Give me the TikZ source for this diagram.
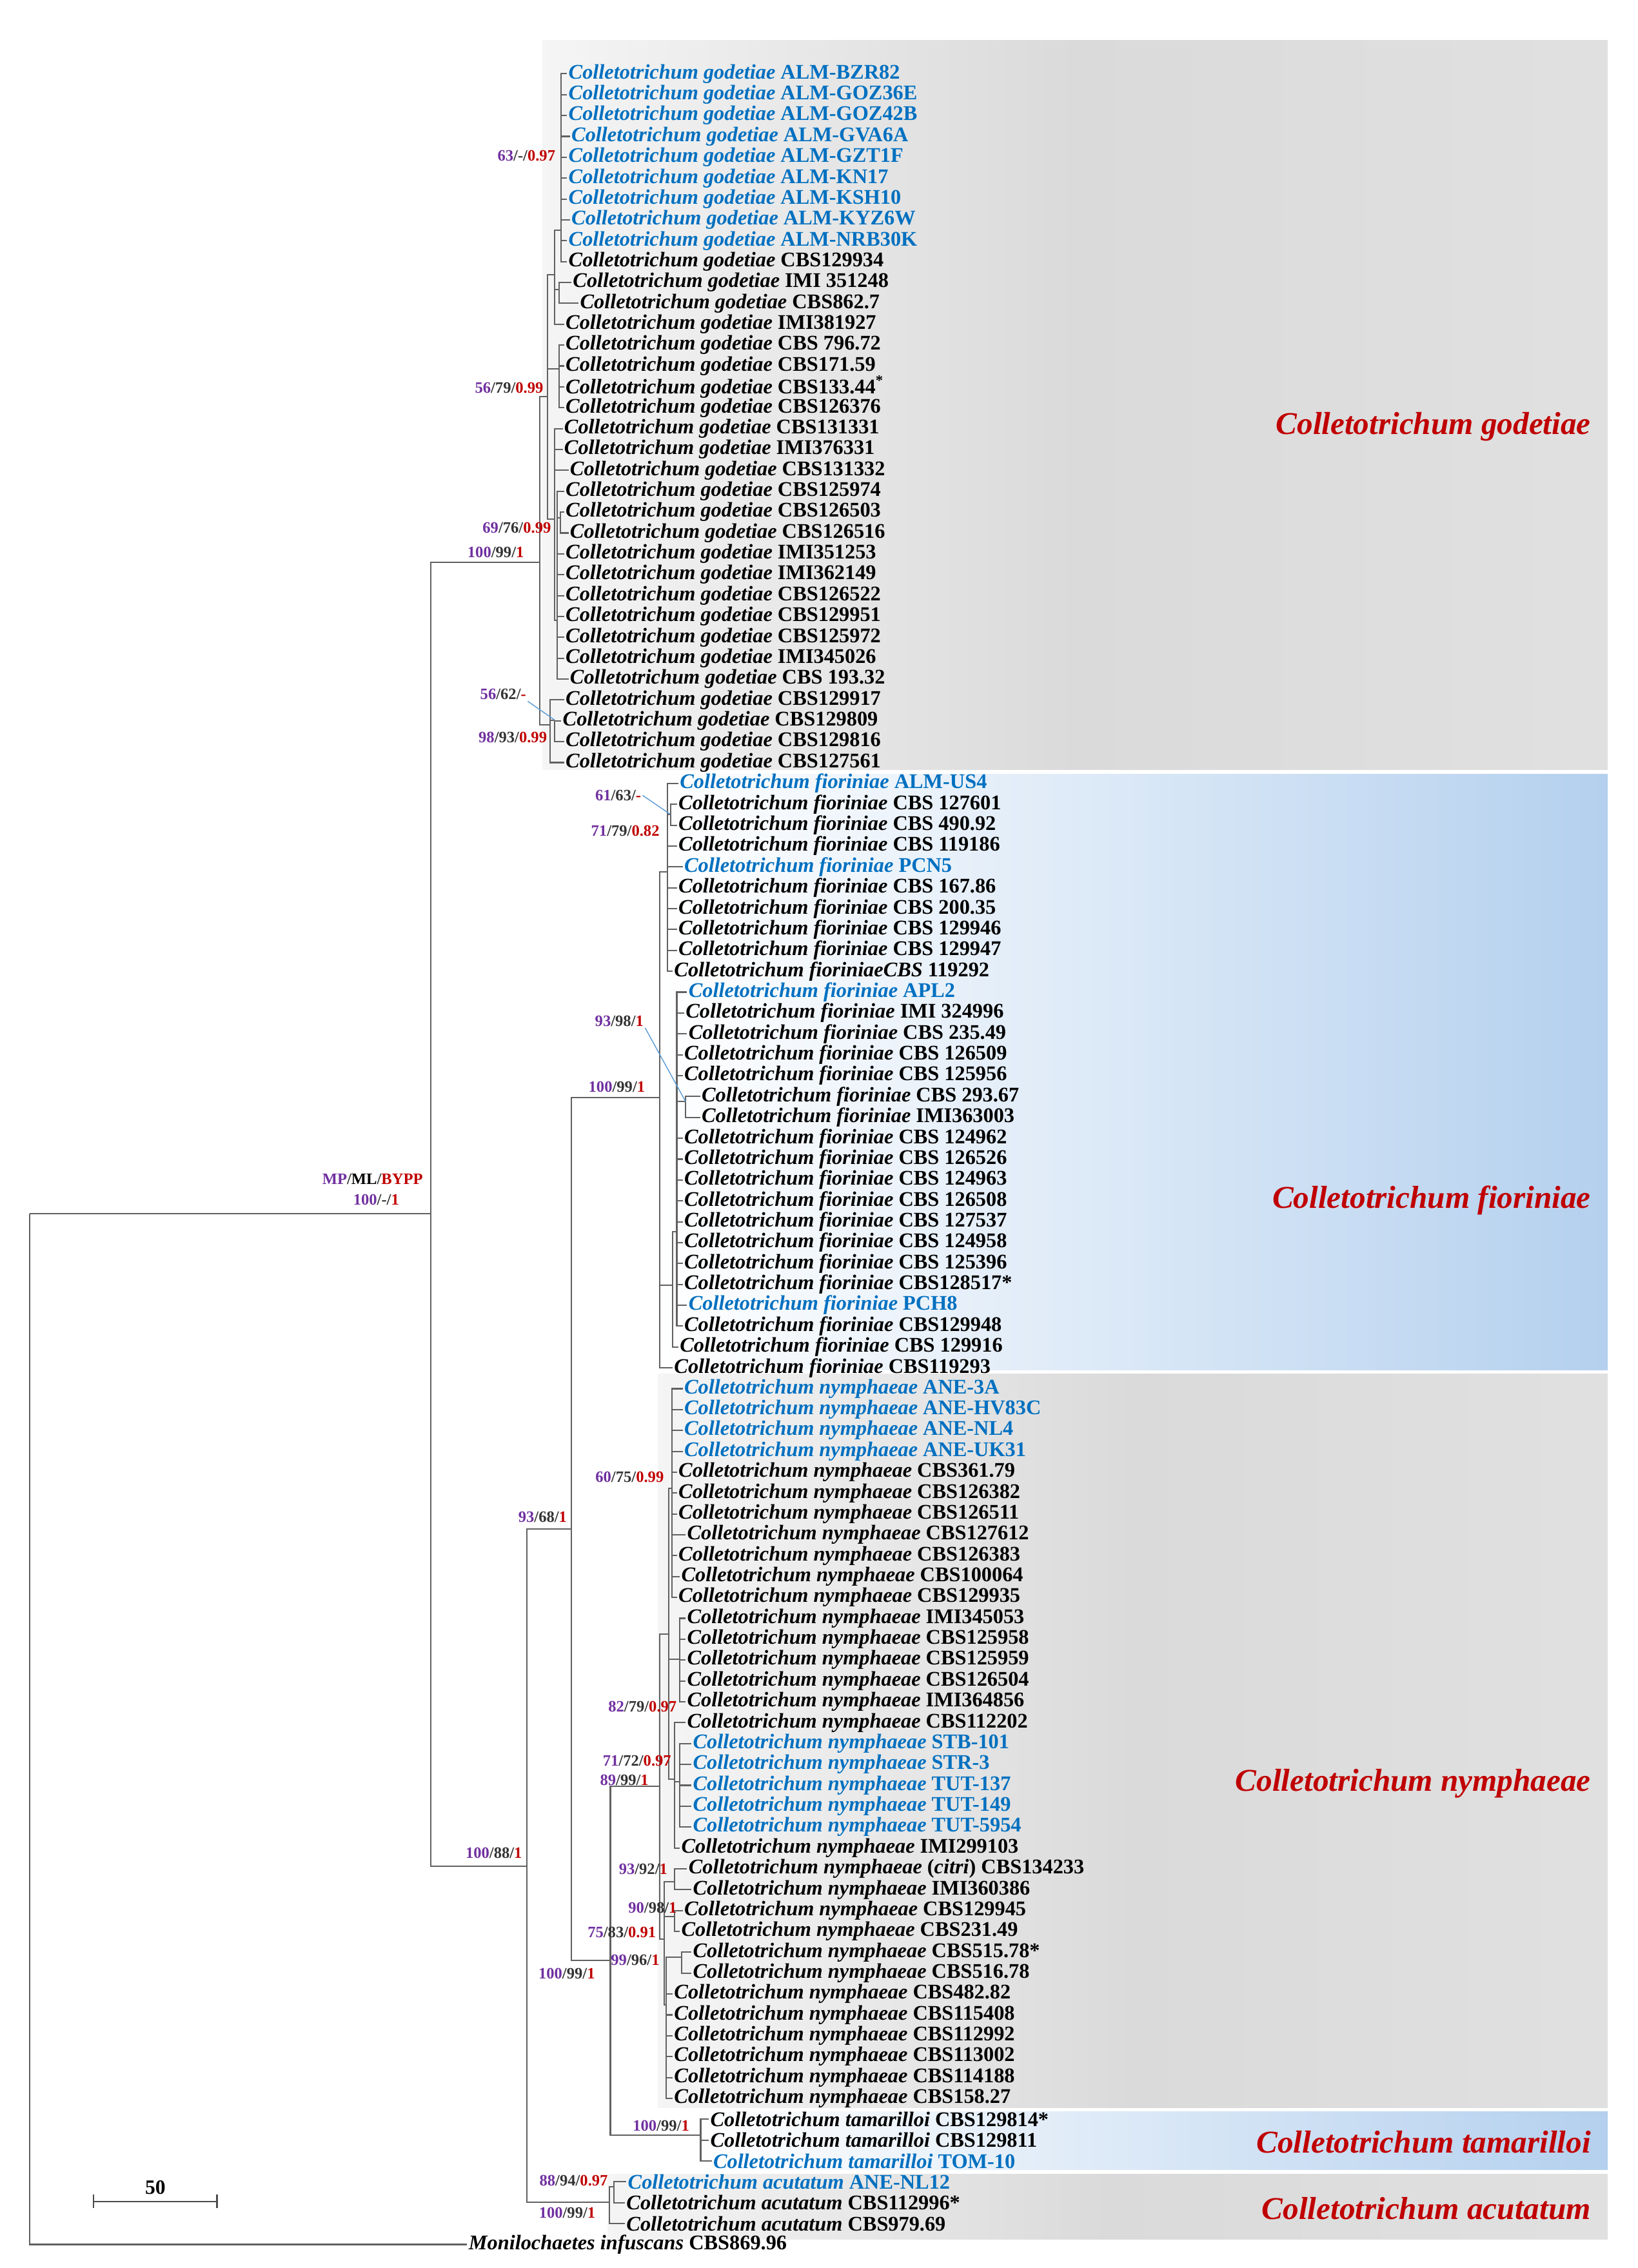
\documentclass[tikz,border=0pt]{standalone}
\usepackage{fontspec}
\setmainfont{Liberation Serif}
\definecolor{mpcol}{RGB}{112,48,160}
\definecolor{bycol}{RGB}{192,0,0}
\definecolor{isocol}{RGB}{0,112,192}
\definecolor{fioblue}{RGB}{180,208,238}
\definecolor{leadcol}{RGB}{91,155,213}

\begin{document}
\begin{tikzpicture}[x=0.022429cm, y=-0.022429cm,
    br/.style={line width=0.6pt, draw=black!62},
    leaf/.style={anchor=west, inner sep=0.5pt, font=\fontsize{9.2}{9.2}\selectfont\bfseries},
    iso/.style={leaf, text=isocol},
    ref/.style={leaf, text=black},
    sup/.style={anchor=east, inner sep=0.5pt, font=\fontsize{7}{7}\selectfont\bfseries, text=black!80},
    clade/.style={anchor=east, inner sep=0pt, text=bycol, font=\fontsize{14}{14}\selectfont\bfseries\itshape},
    lead/.style={draw=leadcol, line width=0.4pt}]

    \useasboundingbox (0,0) rectangle (1132,1568);

    \fill[left color=gray!8, right color=gray!24, middle color=gray!29] (375,28) rectangle (1111.5,532);
    \fill[left color=white, right color=fioblue, middle color=fioblue!50] (455,535) rectangle (1111.5,947);
    \fill[left color=gray!8, right color=gray!24, middle color=gray!29] (455,950) rectangle (1111.5,1457);
    \fill[left color=white, right color=fioblue, middle color=fioblue!50] (480,1460) rectangle (1111.5,1500);
    \fill[left color=gray!8, right color=gray!24, middle color=gray!29] (420,1503) rectangle (1111.5,1548);

    \foreach \i/\x/\sty/\code in {1/392/iso/ALM-BZR82, 2/392/iso/ALM-GOZ36E, 3/392/iso/ALM-GOZ42B,
        4/394/iso/ALM-GVA6A, 5/392/iso/ALM-GZT1F, 6/392/iso/ALM-KN17, 7/392/iso/ALM-KSH10,
        8/394/iso/ALM-KYZ6W, 9/392/iso/ALM-NRB30K, 10/392/ref/CBS129934, 11/395/ref/IMI 351248,
        12/400/ref/CBS862.7, 13/390/ref/IMI381927, 14/390/ref/CBS 796.72, 15/390/ref/CBS171.59,
        16/390/ref/CBS133.44\textsuperscript{*}, 17/390/ref/CBS126376, 18/389/ref/CBS131331,
        19/389/ref/IMI376331, 20/393/ref/CBS131332, 21/390/ref/CBS125974, 22/390/ref/CBS126503,
        23/393/ref/CBS126516, 24/390/ref/IMI351253, 25/390/ref/IMI362149, 26/390/ref/CBS126522,
        27/390/ref/CBS129951, 28/390/ref/CBS125972, 29/390/ref/IMI345026, 30/393/ref/CBS 193.32,
        31/390/ref/CBS129917, 32/388/ref/CBS129809, 33/390/ref/CBS129816, 34/390/ref/CBS127561}
        \node[\sty] (l\i) at (\x,{51+(\i-1)*14.43}) {\textit{Colletotrichum godetiae} \code};

    \foreach \i/\x/\sty/\code in {35/469/iso/ALM-US4, 36/468/ref/CBS 127601, 37/468/ref/CBS 490.92,
        38/468/ref/CBS 119186, 39/472/iso/PCN5, 40/468/ref/CBS 167.86, 41/468/ref/CBS 200.35,
        42/468/ref/CBS 129946, 43/468/ref/CBS 129947, 45/475/iso/APL2, 46/473/ref/IMI 324996,
        47/475/ref/CBS 235.49, 48/472/ref/CBS 126509, 49/472/ref/CBS 125956, 50/484/ref/CBS 293.67,
        51/484/ref/IMI363003, 52/472/ref/CBS 124962, 53/472/ref/CBS 126526, 54/472/ref/CBS 124963,
        55/472/ref/CBS 126508, 56/472/ref/CBS 127537, 57/472/ref/CBS 124958, 58/472/ref/CBS 125396,
        59/472/ref/CBS128517*, 60/475/iso/PCH8, 61/472/ref/CBS129948, 62/469/ref/CBS 129916,
        63/465/ref/CBS119293}
        \node[\sty] (l\i) at (\x,{51+(\i-1)*14.43}) {\textit{Colletotrichum fioriniae} \code};
    \node[ref] (l44) at (465,{51+43*14.43}) {\textit{Colletotrichum fioriniaeCBS} 119292};

    \foreach \i/\x/\sty/\code in {64/472/iso/ANE-3A, 65/472/iso/ANE-HV83C, 66/472/iso/ANE-NL4,
        67/472/iso/ANE-UK31, 68/468/ref/CBS361.79, 69/468/ref/CBS126382, 70/468/ref/CBS126511,
        71/474/ref/CBS127612, 72/468/ref/CBS126383, 73/470/ref/CBS100064, 74/468/ref/CBS129935,
        75/474/ref/IMI345053, 76/474/ref/CBS125958, 77/474/ref/CBS125959, 78/474/ref/CBS126504,
        79/474/ref/IMI364856, 80/474/ref/CBS112202, 81/478/iso/STB-101, 82/478/iso/STR-3,
        83/478/iso/TUT-137, 84/478/iso/TUT-149, 85/478/iso/TUT-5954, 86/470/ref/IMI299103,
        87/475/ref/{(\textit{citri}) CBS134233}, 88/478/ref/IMI360386, 89/472/ref/CBS129945,
        90/470/ref/CBS231.49, 91/478/ref/CBS515.78*, 92/478/ref/CBS516.78, 93/465/ref/CBS482.82,
        94/465/ref/CBS115408, 95/465/ref/CBS112992, 96/465/ref/CBS113002, 97/465/ref/CBS114188,
        98/465/ref/CBS158.27}
        \node[\sty] (l\i) at (\x,{51+(\i-1)*14.43}) {\textit{Colletotrichum nymphaeae} \code};

    \foreach \i/\x/\sty/\code in {99/490/ref/CBS129814*, 100/490/ref/CBS129811, 101/492/iso/TOM-10}
        \node[\sty] (l\i) at (\x,{51+(\i-1)*14.43}) {\textit{Colletotrichum tamarilloi} \code};
    \foreach \i/\x/\sty/\code in {102/433/iso/ANE-NL12, 103/432/ref/CBS112996*, 104/432/ref/CBS979.69}
        \node[\sty] (l\i) at (\x,{51+(\i-1)*14.43}) {\textit{Colletotrichum acutatum} \code};
    \node[ref] (l105) at (323,{51+104*14.43}) {\textit{Monilochaetes infuscans} CBS869.96};

    \coordinate (root) at (20.5,839);
    \coordinate (in0) at (298,839);
    \coordinate (god) at (373,388.6);
    \coordinate (god1) at (378.6,274.3);
    \coordinate (god2) at (383.3,190);
    \coordinate (god3) at (388,159);
    \coordinate (god4) at (386.5,200);
    \coordinate (god5) at (386.5,255);
    \coordinate (god6) at (383.3,358.8);
    \coordinate (god7) at (385,428.7);
    \coordinate (god8) at (387.5,358);
    \coordinate (god9) at (380.3,501.2);
    \coordinate (god10) at (383.5,497.8);
    \coordinate (core) at (364.4,1290.3);
    \coordinate (fn) at (395,1057);
    \coordinate (fio) at (456.2,758.7);
    \coordinate (fio1) at (461.4,602.6);
    \coordinate (fio2) at (463.5,563);
    \coordinate (fioB) at (464.9,888.7);
    \coordinate (fio3) at (467.9,851.5);
    \coordinate (fio4) at (474,761.6);
    \coordinate (nt) at (422,1355.2);
    \coordinate (nym) at (456.2,1235);
    \coordinate (nym1) at (462.3,1129.7);
    \coordinate (nym2) at (464.4,1029);
    \coordinate (nym3) at (469.9,1147);
    \coordinate (nym4) at (466.4,1230);
    \coordinate (nym5) at (469.9,1232);
    \coordinate (nym6) at (459.2,1340.7);
    \coordinate (nym7) at (466.3,1301);
    \coordinate (nym8) at (466.3,1325);
    \coordinate (nym9) at (460.7,1386);
    \coordinate (nym10) at (471.1,1353);
    \coordinate (tam) at (484.4,1476.2);
    \coordinate (acu) at (421.3,1522.5);
    \coordinate (acu1) at (424.5,1512);

    \foreach \p/\c in {root/in0, root/l105, in0/god, in0/core, god/god1, god/god9, god1/god2,
        god1/god5, god1/god6, god2/god3, god2/god4, god2/l13, god4/l11, god4/l12, god6/l18,
        god6/l19, god6/l20, god6/god7, god7/l21, god7/god8, god8/l22, god8/l23, god9/l31,
        god9/god10, god9/l34, god10/l32, god10/l33, core/fn, core/acu, fn/fio, fn/nt,
        fio/fio1, fio/fioB, fio/l63, fio1/fio2, fio2/l36, fio2/l37, fioB/fio3, fioB/l62,
        fio3/fio4, fio4/l50, fio4/l51, nt/nym, nt/tam, nym/nym1, nym/nym6, nym1/nym2,
        nym1/nym3, nym1/nym4, nym4/l80, nym4/nym5, nym4/l86, nym6/nym7, nym6/nym8, nym6/nym9,
        nym7/l87, nym7/l88, nym8/l89, nym8/l90, nym9/nym10, nym10/l91, nym10/l92,
        acu/acu1, acu/l104, acu1/l102, acu1/l103}
        \draw[br] (\p) |- (\c);
    \foreach \i in {1,...,10} \draw[br] (god3) |- (l\i);
    \foreach \i in {14,...,17} \draw[br] (god5) |- (l\i);
    \foreach \i in {24,...,30} \draw[br] (god7) |- (l\i);
    \foreach \i in {35,38,39,40,41,42,43,44} \draw[br] (fio1) |- (l\i);
    \foreach \i in {45,...,49,52,53,...,61} \draw[br] (fio3) |- (l\i);
    \foreach \i in {64,...,74} \draw[br] (nym2) |- (l\i);
    \foreach \i in {75,...,79} \draw[br] (nym3) |- (l\i);
    \foreach \i in {81,...,85} \draw[br] (nym5) |- (l\i);
    \foreach \i in {93,...,98} \draw[br] (nym9) |- (l\i);
    \foreach \i in {99,100,101} \draw[br] (tam) |- (l\i);

    \foreach \nm/\x/\y/\mpv/\mlv/\byv in {sgod3/385/107.7/63/-/0.97, sgod1/376.7/268/56/79/0.99,
        sgod6/382/364.7/69/76/0.99, sgod/363.3/381.8/100/99/1, sgod10/364.8/480/56/62/-,
        sgod9/379.2/509.8/98/93/0.99, sfio2/444.3/549.9/61/63/-, sfio1/457/574.4/71/79/0.82,
        sfio3/446/705.8/93/98/1, sfio/447/751.2/100/99/1, sfn/393/1049/93/68/1,
        snym2/460/1021/60/75/0.99, snym4/468.9/1180/82/79/0.97, snym5/465.1/1217.5/71/72/0.97,
        snym/449.5/1230.6/89/99/1, score/362/1281/100/88/1, snym7/462.5/1292/93/92/1,
        snym8/469/1318.8/90/98/1, snym6/454.6/1336/75/83/0.91, snym10/457/1355/99/96/1,
        snt/412.4/1364.6/100/99/1, stam/477.6/1469.8/100/99/1, sacu1/421.3/1507.7/88/94/0.97,
        sacu/412.7/1530/100/99/1, sroot/277/829.3/100/-/1}
        \node[sup] (\nm) at (\x,\y) {\textcolor{mpcol}{\mpv}/\mlv/\textcolor{bycol}{\byv}};
    \node[sup] (key) at (293.4,815) {\textcolor{mpcol}{MP}/\textcolor{black}{ML}/\textcolor{bycol}{BYPP}};

    \draw[lead] (sgod10.south east) -- (god10);
    \draw[lead] (sfio2.east) -- (fio2);
    \draw[lead] (sfio3.south east) -- (fio4);

    \node[clade] (cgod) at (1100,295) {Colletotrichum godetiae};
    \node[clade] (cfio) at (1100,830) {Colletotrichum fioriniae};
    \node[clade] (cnym) at (1100,1233) {Colletotrichum nymphaeae};
    \node[clade] (ctam) at (1100,1481) {Colletotrichum tamarilloi};
    \node[clade] (cacu) at (1100,1527) {Colletotrichum acutatum};

    \coordinate (sb1) at (64.8,1522);
    \coordinate (sb2) at (150,1522);
    \draw[br, draw=black!70] (sb1) -- (sb2);
    \draw[br, draw=black!70] ([yshift=3pt]sb1) -- ([yshift=-3pt]sb1);
    \draw[br, draw=black!70] ([yshift=3pt]sb2) -- ([yshift=-3pt]sb2);
    \node[anchor=south, inner sep=1pt, font=\fontsize{9}{9}\selectfont\bfseries] (sbl) at (107.4,1519) {50};

\end{tikzpicture}
\end{document}
